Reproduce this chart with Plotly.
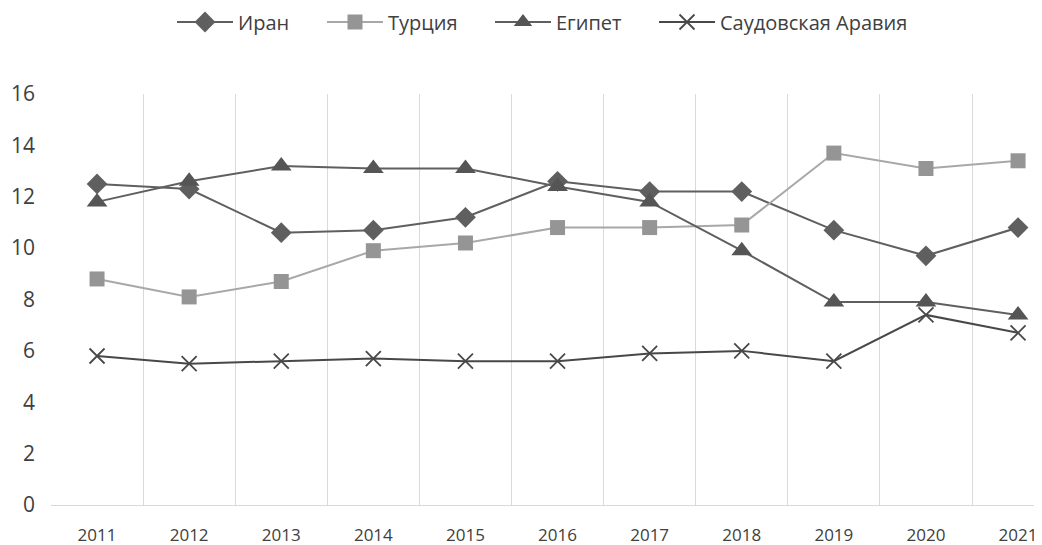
import plotly.graph_objects as go

years = ["2011", "2012", "2013", "2014", "2015", "2016", "2017", "2018", "2019", "2020", "2021"]
iran = [12.5, 12.3, 10.6, 10.7, 11.2, 12.6, 12.2, 12.2, 10.7, 9.7, 10.8]
turkey = [8.8, 8.1, 8.7, 9.9, 10.2, 10.8, 10.8, 10.9, 13.7, 13.1, 13.4]
egypt = [11.8, 12.6, 13.2, 13.1, 13.1, 12.4, 11.8, 9.9, 7.9, 7.9, 7.4]
saudi = [5.8, 5.5, 5.6, 5.7, 5.6, 5.6, 5.9, 6.0, 5.6, 7.4, 6.7]

FONT = "Open Sans"
W, H = 1034, 537  # page body has an 8px margin

fig = go.Figure()
fig.add_trace(go.Scatter(x=years, y=iran, name="Иран", mode="lines+markers", legend="legend",
                         line=dict(color="#5f5f5f", width=2),
                         marker=dict(symbol="diamond", size=16, color="#5f5f5f")))
fig.add_trace(go.Scatter(x=years, y=turkey, name="Турция", mode="lines+markers", legend="legend2",
                         line=dict(color="#a8a8a8", width=2),
                         marker=dict(symbol="square", size=15, color="#959595")))
fig.add_trace(go.Scatter(x=years, y=egypt, name="Египет", mode="lines+markers", legend="legend3",
                         line=dict(color="#5f5f5f", width=2),
                         marker=dict(symbol="triangle-up", size=18, color="#555555")))
fig.add_trace(go.Scatter(x=years, y=saudi, name="Саудовская Аравия", mode="lines+markers", legend="legend4",
                         line=dict(color="#484848", width=2),
                         marker=dict(symbol="x-thin-open", size=15,
                                     line=dict(color="#484848", width=1.8))))

def leg(px):
    return dict(orientation="h", xref="container", yref="container",
                x=px / W, y=1 - 14 / H, xanchor="left", yanchor="middle",
                font=dict(family=FONT, size=20, color="#404040"),
                itemwidth=56, bgcolor="rgba(0,0,0,0)")

fig.update_layout(
    width=W, height=H,
    margin=dict(l=43, r=0, t=86, b=40, autoexpand=False),
    paper_bgcolor="white", plot_bgcolor="white",
    font=dict(family=FONT, size=17, color="#404040"),
    showlegend=True,
    legend=leg(164), legend2=leg(314), legend3=leg(482), legend4=leg(646),
    xaxis=dict(type="category", range=[-0.5, 10.26], tickson="boundaries",
               showgrid=True, gridcolor="#d9d9d9", gridwidth=1,
               showline=True, linecolor="#d9d9d9", linewidth=1,
               ticks="", ticklabelstandoff=15, automargin=False,
               tickfont=dict(family=FONT, size=17, color="#404040"),
               zeroline=False),
    yaxis=dict(range=[0, 16], dtick=2, tick0=0, showgrid=False,
               showline=False, zeroline=False, ticks="",
               ticklabelstandoff=15, automargin=False,
               tickfont=dict(family=FONT, size=21, color="#404040")),
)

fig.write_html("out.html")
